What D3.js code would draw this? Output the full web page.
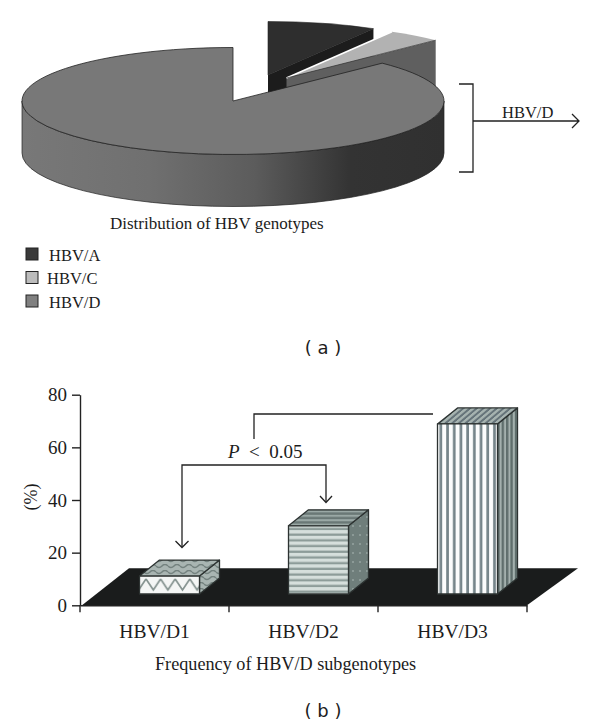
<!DOCTYPE html>
<html>
<head>
<meta charset="utf-8">
<script src="https://cdn.jsdelivr.net/npm/d3@7"></script>
<style>
  html, body { margin: 0; padding: 0; background: #fff; }
  svg { display: block; }
  text { font-family: "Liberation Serif", serif; fill: #1c1c1c; }
  .panel-tag { font-family: "DejaVu Sans", sans-serif; font-size: 18px; }
  .axis text { font-family: "Liberation Serif", serif; fill: #1c1c1c; }
  .axis path, .axis line { stroke: #222; stroke-width: 1.4; }
</style>
</head>
<body>
<div id="chart"></div>
<script>
// Panel a
const genotypes = ['HBV/A', 'HBV/C', 'HBV/D']
const genotypeShare = [8.33, 4.17, 87.5]

// Panel b
const subgenotypes = ['HBV/D1', 'HBV/D2', 'HBV/D3']
const subgenotypeFreq = [6.8, 25.9, 64.6]
const freqTicks = [0, 20, 40, 60, 80]

const width = 600
const height = 727

const svg = d3.select('#chart').append('svg')
  .attr('width', width)
  .attr('height', height)
  .attr('viewBox', `0 0 ${width} ${height}`)

const defs = svg.append('defs')

// ---- Panel a: exploded 3D pie

const pieCx = 233
const pieCy = 101
const rx = 211
const ry = 53.5
const pieDepth = 52

const topColors = ['#2e2e2e', '#b2b2b2', '#787878']
const wallColors = ['#1c1c1c', '#5f5f5f', null]
const explode = [[35, -26], [53.5, -23], [0, 0]]

const sideGrad = defs.append('linearGradient')
  .attr('id', 'pieSide')
  .attr('gradientUnits', 'userSpaceOnUse')
  .attr('x1', pieCx - rx).attr('x2', pieCx + rx)
  .attr('y1', 0).attr('y2', 0)
sideGrad.append('stop').attr('offset', '0').attr('stop-color', '#787878')
sideGrad.append('stop').attr('offset', '0.3').attr('stop-color', '#707070')
sideGrad.append('stop').attr('offset', '0.55').attr('stop-color', '#5c5c5c')
sideGrad.append('stop').attr('offset', '0.78').attr('stop-color', '#333')
sideGrad.append('stop').attr('offset', '1').attr('stop-color', '#303030')

const slices = d3.pie().sort(null).value(d => d)(genotypeShare)
const arc = d3.arc().innerRadius(0).outerRadius(rx)

// point on the rim of the tilted ellipse, angle from 12 o'clock
const rim = (a, [ox, oy]) => [
  pieCx + ox + rx * Math.sin(a),
  pieCy + oy - ry * Math.cos(a)
]

const drawTop = (i, strokeColor, strokeW) => {
  svg.append('g')
    .attr('transform', `translate(${pieCx + explode[i][0]},${pieCy + explode[i][1]}) scale(1,${ry / rx})`)
    .append('path')
    .attr('d', arc(slices[i]))
    .attr('fill', topColors[i])
    .attr('stroke', strokeColor)
    .attr('stroke-width', strokeW)
    .attr('vector-effect', 'non-scaling-stroke')
}

const drawWall = (i) => {
  const o = explode[i]
  const apex = [pieCx + o[0], pieCy + o[1]]
  const edge = rim(slices[i].endAngle, o)
  svg.append('path')
    .attr('d', d3.line()([
      apex, edge, [edge[0], edge[1] + pieDepth], [apex[0], apex[1] + pieDepth]
    ]) + 'Z')
    .attr('fill', wallColors[i])
}

// back to front: A, C, then the big slice over them
drawTop(0, '#222', 0.6)
drawWall(0)
drawWall(1)
drawTop(1, 'none', 0)

// C has a white gap on its upper edge only, the lower edge stays dark
const cApex = [pieCx + explode[1][0], pieCy + explode[1][1]]
svg.append('path')
  .attr('d', d3.line()([cApex, rim(slices[1].startAngle, explode[1])]))
  .attr('stroke', '#fff')
  .attr('stroke-width', 1.6)
svg.append('path')
  .attr('d', d3.line()([cApex, rim(slices[1].endAngle, explode[1])]))
  .attr('stroke', '#333')
  .attr('stroke-width', 0.7)

const sideLeft = pieCx - rx
const sideRight = pieCx + rx
svg.append('path')
  .attr('d', `M${sideLeft},${pieCy}A${rx},${ry} 0 0 0 ${sideRight},${pieCy}` +
    `L${sideRight},${pieCy + pieDepth}A${rx},${ry} 0 0 1 ${sideLeft},${pieCy + pieDepth}Z`)
  .attr('fill', 'url(#pieSide)')
  .attr('stroke', '#222')
  .attr('stroke-width', 0.7)
drawTop(2, '#222', 0.8)

// bracket pulled out of the pie
const bracket = svg.append('g').attr('fill', 'none').attr('stroke', '#222').attr('stroke-width', 1.3)
bracket.append('path').attr('d', 'M459,84H473V172H459')
bracket.append('path').attr('d', 'M473,121H579M572,114L579,121L572,128')

svg.append('text').attr('x', 502).attr('y', 118).attr('font-size', 16.5).text('HBV/D')
svg.append('text').attr('x', 110).attr('y', 229).attr('font-size', 17).text('Distribution of HBV genotypes')

// legend
const legendY = d3.scalePoint().domain(genotypes).range([254, 301])
const legendTextX = [49, 47, 49]
const legend = svg.selectAll('.legend').data(genotypes).join('g').attr('class', 'legend')
legend.append('rect')
  .attr('x', 26)
  .attr('y', d => legendY(d) - 6)
  .attr('width', 12)
  .attr('height', 12)
  .attr('fill', (d, i) => ['#3a3a3a', '#bcbcbc', '#808080'][i])
  .attr('stroke', '#222')
  .attr('stroke-width', 1)
legend.append('text')
  .attr('x', (d, i) => legendTextX[i])
  .attr('y', d => legendY(d) + 6.5)
  .attr('font-size', 16.5)
  .text(d => d)

svg.append('text').attr('class', 'panel-tag').attr('x', 323).attr('y', 354)
  .attr('text-anchor', 'middle').attr('xml:space', 'preserve').text('( a )')

// ---- Panel b: 3D bars on a dark floor

const axisLeftX = 80
const axisRightX = 527
const yBase = 605.3
const yTop = 394.7

const x = d3.scaleBand().domain(subgenotypes).range([axisLeftX, axisRightX])
const y = d3.scaleLinear().domain([0, 80]).range([yBase, yTop])

// floor
const floorDx = 49
const floorDy = 37
svg.append('path')
  .attr('d', d3.line()([
    [axisLeftX + 2, yBase],
    [axisRightX, yBase],
    [axisRightX + floorDx + 2, yBase - floorDy],
    [axisLeftX + floorDx, yBase - floorDy]
  ]) + 'Z')
  .attr('fill', '#1a1c1c')

// fills for the bars
const pattern = (id, w, h, bg, transform) => {
  const p = defs.append('pattern')
    .attr('id', id)
    .attr('patternUnits', 'userSpaceOnUse')
    .attr('width', w)
    .attr('height', h)
  if (transform) p.attr('patternTransform', transform)
  p.append('rect').attr('width', w).attr('height', h).attr('fill', bg)
  return p
}

pattern('d1Front', 14.6, 18, '#f4f6f5')
  .append('path').attr('d', 'M0,3L7.3,14L14.6,3').attr('fill', 'none')
  .attr('stroke', '#84928f').attr('stroke-width', 1.7)
const d1Top = pattern('d1Top', 12, 6, '#a9b5b2')
d1Top.append('path').attr('d', 'M0,2Q3,5 6,2T12,2').attr('fill', 'none')
  .attr('stroke', '#74827f').attr('stroke-width', 1.5)

pattern('d2Front', 6, 5.7, '#d6dfdc')
  .append('rect').attr('y', 3.4).attr('width', 6).attr('height', 2.3).attr('fill', '#8d9c99')
pattern('d2Top', 6, 4.4, '#9aa8a5')
  .append('rect').attr('y', 2).attr('width', 6).attr('height', 2.4).attr('fill', '#6a7876')
pattern('d2Side', 7, 9, '#6f7e7b')
  .append('circle').attr('cx', 3).attr('cy', 4).attr('r', 1).attr('fill', '#96a3a0')

pattern('d3Front', 6.7, 6, '#fbfcfc')
  .append('rect').attr('x', 4).attr('width', 2.7).attr('height', 6).attr('fill', '#76858a')
pattern('d3Top', 6.7, 6, '#a6b3b0', 'skewX(-50)')
  .append('rect').attr('x', 3.6).attr('width', 3.1).attr('height', 6).attr('fill', '#66747a')
pattern('d3Side', 4.4, 6, '#5f6e6c')
  .append('rect').attr('x', 2.4).attr('width', 2).attr('height', 6).attr('fill', '#a3b0ad')

const barFill = [
  { front: 'd1Front', top: 'd1Top', side: 'd1Top' },
  { front: 'd2Front', top: 'd2Top', side: 'd2Side' },
  { front: 'd3Front', top: 'd3Top', side: 'd3Side' }
]

const barWidth = 60
const barShift = 15     // bars sit right of the band centre, on the floor
const barFloor = 11.3   // front face stands this far above the axis
const barDx = 20
const barDy = 16

const bars = svg.selectAll('.bar')
  .data(subgenotypes.map((name, i) => ({ name, value: subgenotypeFreq[i], fill: barFill[i] })))
  .join('g')
  .attr('class', 'bar')
  .attr('stroke', '#2c3231')
  .attr('stroke-width', 1.3)
  .attr('stroke-linejoin', 'round')

const barLeft = d => x(d.name) + x.bandwidth() / 2 + barShift - barWidth / 2
const barBottom = () => yBase - barFloor
const barTop = d => y(d.value) - barFloor

bars.append('path')
  .attr('d', d => d3.line()([
    [barLeft(d) + barWidth, barBottom()],
    [barLeft(d) + barWidth, barTop(d)],
    [barLeft(d) + barWidth + barDx, barTop(d) - barDy],
    [barLeft(d) + barWidth + barDx, barBottom() - barDy]
  ]) + 'Z')
  .attr('fill', d => `url(#${d.fill.side})`)

bars.append('path')
  .attr('d', d => d3.line()([
    [barLeft(d), barTop(d)],
    [barLeft(d) + barWidth, barTop(d)],
    [barLeft(d) + barWidth + barDx, barTop(d) - barDy],
    [barLeft(d) + barDx, barTop(d) - barDy]
  ]) + 'Z')
  .attr('fill', d => `url(#${d.fill.top})`)

bars.append('rect')
  .attr('x', barLeft)
  .attr('y', barTop)
  .attr('width', barWidth)
  .attr('height', d => barBottom() - barTop(d))
  .attr('fill', d => `url(#${d.fill.front})`)

// axes
const yAxis = svg.append('g')
  .attr('class', 'axis')
  .attr('transform', `translate(${axisLeftX},0)`)
  .call(d3.axisLeft(y).tickValues(freqTicks).tickSize(8).tickSizeOuter(0).tickPadding(5))
yAxis.selectAll('text').attr('font-size', 19)

const xAxis = svg.append('g')
  .attr('class', 'axis')
  .attr('transform', `translate(0,${yBase})`)
  .call(d3.axisBottom(x).tickSize(0).tickPadding(19))
xAxis.selectAll('text').attr('font-size', 19.5)

// ticks fall between the categories, not on them
xAxis.selectAll('.edge')
  .data(subgenotypes.map(d => x(d)).concat(axisRightX))
  .join('line')
  .attr('class', 'edge')
  .attr('x1', d => d).attr('x2', d => d)
  .attr('y1', 0).attr('y2', 7)

svg.append('text')
  .attr('transform', 'translate(37,497) rotate(-90)')
  .attr('text-anchor', 'middle')
  .attr('font-size', 18)
  .text('(%)')

svg.append('text').attr('x', 155).attr('y', 670).attr('font-size', 18.2)
  .text('Frequency of HBV/D subgenotypes')

// significance brackets
const sig = svg.append('g').attr('fill', 'none').attr('stroke', '#222').attr('stroke-width', 1.3)
sig.append('path').attr('d', 'M254,439V414H433')
sig.append('path').attr('d', 'M182,547V465H326V502')
sig.append('path').attr('d', 'M175.5,541L182,547.5L188.5,541')
sig.append('path').attr('d', 'M320,496L326,502.5L332,496')

const pLabel = svg.append('text').attr('x', 228).attr('y', 458).attr('font-size', 19)
  .attr('xml:space', 'preserve')
pLabel.append('tspan').attr('font-style', 'italic').text('P')
pLabel.append('tspan').text('  <  0.05')

svg.append('text').attr('class', 'panel-tag').attr('x', 323).attr('y', 717)
  .attr('text-anchor', 'middle').attr('xml:space', 'preserve').text('( b )')
</script>
</body>
</html>
